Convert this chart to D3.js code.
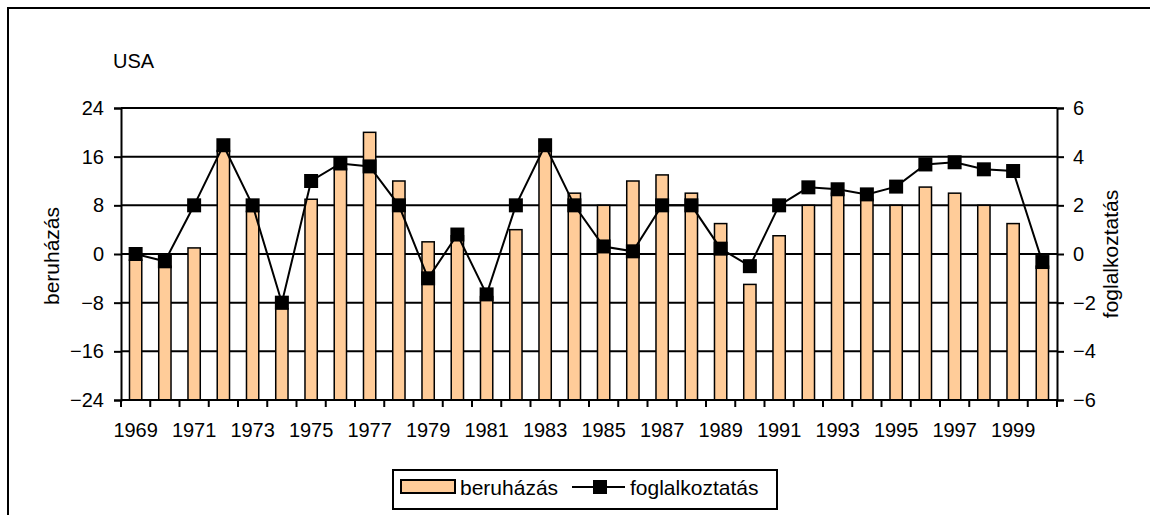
<!DOCTYPE html>
<html lang="hu">
<head>
<meta charset="UTF-8">
<title>USA</title>
<style>
  body { margin: 0; background: #fff; }
  text { font-family: "Liberation Sans", Arial, sans-serif; fill: #000; }
</style>
</head>
<body>
<script src="https://d3js.org/d3.v7.min.js"></script>
<script>
// adatok
const years = d3.range(1969, 2001);
const beruhazas = [-1, -2, 1, 17, 7, -9, 9, 14, 20, 12, 2, 3, -7, 4, 17, 10,
                   8, 12, 13, 10, 5, -5, 3, 8, 10, 9, 8, 11, 10, 8, 5, -2];
const foglalkoztatas = [0, -0.3, 2, 4.47, 2, -2, 3, 3.72, 3.6, 2, -1, 0.8, -1.66, 2, 4.47, 2,
                        0.31, 0.11, 2, 2, 0.22, -0.5, 2, 2.74, 2.66, 2.45, 2.77, 3.68, 3.77, 3.48, 3.41, -0.33];
const leftTicks = [-24, -16, -8, 0, 8, 16, 24];
const rightTicks = [-6, -4, -2, 0, 2, 4, 6];

const width = 1150, height = 515;
const m = { left: 121, right: 1057, top: 108, bottom: 400 };
const fs = '20px';

const svg = d3.select('body').append('svg')
    .attr('width', width)
    .attr('height', height);

// keret
svg.append('rect')
    .attr('x', 8).attr('y', 8)
    .attr('width', 1160).attr('height', 530)
    .attr('fill', 'none').attr('stroke', '#000').attr('stroke-width', 2);

const x = d3.scaleBand().domain(years).range([m.left, m.right]);
const yL = d3.scaleLinear().domain([-24, 24]).range([m.bottom, m.top]);
const yR = d3.scaleLinear().domain([-6, 6]).range([m.bottom, m.top]);

// rács
svg.append('g').selectAll('line')
    .data(leftTicks.slice(1))
    .enter().append('line')
    .attr('x1', m.left).attr('x2', m.right)
    .attr('y1', d => yL(d)).attr('y2', d => yL(d))
    .attr('stroke', '#000').attr('stroke-width', 2);

// oszlopok (a tengely aljától)
const bw = x.bandwidth() * 0.42;
svg.append('g').selectAll('rect')
    .data(years)
    .enter().append('rect')
    .attr('x', (d) => x(d) + (x.bandwidth() - bw) / 2)
    .attr('y', (d, i) => yL(beruhazas[i]))
    .attr('width', bw)
    .attr('height', (d, i) => yL(-24) - yL(beruhazas[i]))
    .attr('fill', '#FFCC99')
    .attr('stroke', '#000')
    .attr('stroke-width', 1.5);

// tengelyek
const axL = svg.append('g')
    .attr('transform', `translate(${m.left},0)`)
    .call(d3.axisLeft(yL).tickValues(leftTicks).tickSize(7).tickPadding(10));
const axR = svg.append('g')
    .attr('transform', `translate(${m.right},0)`)
    .call(d3.axisRight(yR).tickValues(rightTicks).tickSize(7).tickPadding(9));
const axB = svg.append('g')
    .attr('transform', `translate(0,${m.bottom})`)
    .call(d3.axisBottom(x).tickSize(0).tickPadding(23)
        .tickFormat(d => (d - 1969) % 2 === 0 && d < 2000 ? d : ''));

// kategóriahatár-jelek
svg.append('g').selectAll('line')
    .data(years.concat([2001]))
    .enter().append('line')
    .attr('x1', d => d === 2001 ? m.right : x(d))
    .attr('x2', d => d === 2001 ? m.right : x(d))
    .attr('y1', m.bottom).attr('y2', m.bottom + 7)
    .attr('stroke', '#000').attr('stroke-width', 2);

[axL, axR, axB].forEach(g => {
    g.attr('font-size', null).attr('font-family', null);
    g.select('.domain').attr('stroke', '#000').attr('stroke-width', 2);
    g.selectAll('.tick line').attr('stroke', '#000').attr('stroke-width', 2);
    g.selectAll('text').style('font-size', fs);
});
axB.select('.domain').attr('d', `M${m.left},0H${m.right}`);

// vonal
const line = d3.line()
    .x((d, i) => x(years[i]) + x.bandwidth() / 2)
    .y(d => yR(d));
svg.append('path')
    .datum(foglalkoztatas)
    .attr('d', line)
    .attr('fill', 'none')
    .attr('stroke', '#000')
    .attr('stroke-width', 2);

const ms = 14;
svg.append('g').selectAll('rect')
    .data(foglalkoztatas)
    .enter().append('rect')
    .attr('x', (d, i) => x(years[i]) + x.bandwidth() / 2 - ms / 2)
    .attr('y', d => yR(d) - ms / 2)
    .attr('width', ms).attr('height', ms)
    .attr('fill', '#000');

// feliratok
svg.append('text').attr('x', 113).attr('y', 68)
    .style('font-size', fs).text('USA');

svg.append('text')
    .attr('transform', `translate(59,256) rotate(-90)`)
    .attr('text-anchor', 'middle')
    .style('font-size', '21px')
    .text('beruházás');

svg.append('text')
    .attr('transform', `translate(1118,254) rotate(-90)`)
    .attr('text-anchor', 'middle')
    .style('font-size', '21px')
    .text('foglalkoztatás');

// jelmagyarázat
const lg = svg.append('g');
lg.append('rect').attr('x', 393).attr('y', 470).attr('width', 384).attr('height', 39)
    .attr('fill', '#fff').attr('stroke', '#000').attr('stroke-width', 2);
lg.append('rect').attr('x', 401).attr('y', 480).attr('width', 54).attr('height', 13)
    .attr('fill', '#FFCC99').attr('stroke', '#000').attr('stroke-width', 2);
lg.append('text').attr('x', 460).attr('y', 495).style('font-size', '21px').text('beruházás');
lg.append('line').attr('x1', 572).attr('x2', 625).attr('y1', 487).attr('y2', 487)
    .attr('stroke', '#000').attr('stroke-width', 2);
lg.append('rect').attr('x', 600 - ms / 2).attr('y', 487 - ms / 2).attr('width', ms).attr('height', ms)
    .attr('fill', '#000');
lg.append('text').attr('x', 630).attr('y', 495).style('font-size', '21px').text('foglalkoztatás');
</script>
</body>
</html>
